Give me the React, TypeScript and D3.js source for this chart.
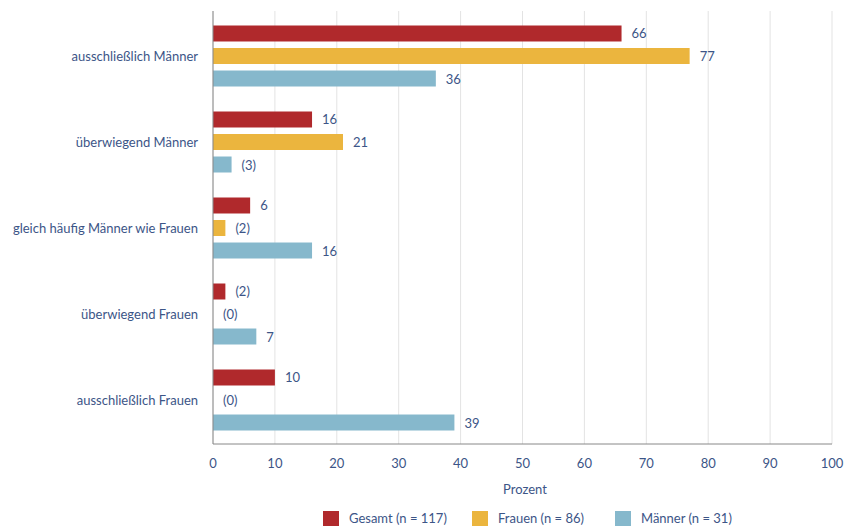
import React from "react";
import * as d3 from "d3";

const categories = [
  "ausschließlich Männer",
  "überwiegend Männer",
  "gleich häufig Männer wie Frauen",
  "überwiegend Frauen",
  "ausschließlich Frauen",
];
const seriesNames = ["Gesamt (n = 117)", "Frauen (n = 86)", "Männer (n = 31)"];
const gesamt = [66, 16, 6, 2, 10];
const frauen = [77, 21, 2, 0, 0];
const maenner = [36, 3, 16, 7, 39];
// small-sample values shown in parentheses
const gesamtParen = [false, false, false, true, false];
const frauenParen = [false, false, true, true, true];
const maennerParen = [false, true, false, false, false];
const xTicks = [0, 10, 20, 30, 40, 50, 60, 70, 80, 90, 100];
const colors = ["#B0292C", "#EBB53E", "#86B8CC"];
const legendX = [323, 472, 615];

const W = 844;
const H = 526;
const FONT = "Lato, 'Open Sans', sans-serif";
const TEXT = "#3C5587";

export default function App() {
  const x = d3.scaleLinear().domain([0, 100]).range([213, 832]);
  const y = d3.scaleBand<string>().domain(categories).range([13, 443]).padding(0);
  const inner = d3
    .scaleBand<string>()
    .domain(seriesNames)
    .range([-33.75, 33.75])
    .paddingInner(0.289)
    .paddingOuter(0.1444);
  const values = [gesamt, frauen, maenner];
  const parens = [gesamtParen, frauenParen, maennerParen];

  return (
    <svg width={W} height={H} style={{ position: "absolute", left: 0, top: 0 }} fontFamily={FONT}>
      <rect width={W} height={H} fill="#fff" />
      {xTicks.map((t) => (
        <line key={t} x1={x(t)} x2={x(t)} y1={11} y2={444} stroke="#E3E3E3" strokeWidth={1} />
      ))}
      {categories.map((c, ci) => (
        <g key={c}>
          <text
            x={198}
            y={y(c)! + y.bandwidth() / 2}
            textAnchor="end"
            dominantBaseline="central"
            fontSize={13}
            fill={TEXT}
          >
            {c}
          </text>
          {seriesNames.map((s, si) => {
            const v = values[si][ci];
            const yy = y(c)! + y.bandwidth() / 2 + inner(s)!;
            const label = parens[si][ci] ? `(${v})` : `${v}`;
            return (
              <g key={s}>
                <rect x={x(0)} y={yy} width={x(v) - x(0)} height={inner.bandwidth()} fill={colors[si]} />
                <text
                  x={x(v) + 10}
                  y={yy + inner.bandwidth() / 2}
                  dominantBaseline="central"
                  fontSize={13}
                  fill={TEXT}
                >
                  {label}
                </text>
              </g>
            );
          })}
        </g>
      ))}
      <line x1={x(0)} x2={x(0)} y1={11} y2={444} stroke="#888" strokeWidth={1} />
      <line x1={x(0)} x2={x(100)} y1={444} y2={444} stroke="#888" strokeWidth={1} />
      {xTicks.map((t) => (
        <text key={t} x={x(t)} y={463} textAnchor="middle" dominantBaseline="central" fontSize={13} fill={TEXT}>
          {t}
        </text>
      ))}
      <text x={525} y={489} textAnchor="middle" dominantBaseline="central" fontSize={13} fill={TEXT}>
        Prozent
      </text>
      {seriesNames.map((s, si) => (
        <g key={s}>
          <rect x={legendX[si]} y={511} width={16} height={16} fill={colors[si]} />
          <text x={legendX[si] + 26} y={518} dominantBaseline="central" fontSize={13} fill={TEXT}>
            {s}
          </text>
        </g>
      ))}
    </svg>
  );
}
